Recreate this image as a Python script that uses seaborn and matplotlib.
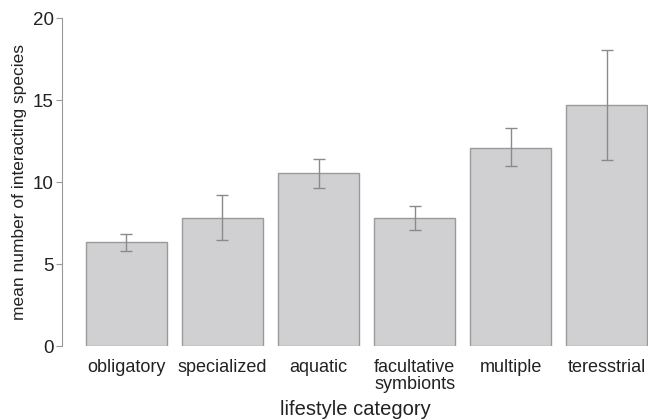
import matplotlib
matplotlib.use("Agg")
import matplotlib.pyplot as plt
import seaborn as sns
import pandas as pd
import numpy as np

categories = ["obligatory", "specialized", "aquatic", "facultative\nsymbionts", "multiple", "teresstrial"]
means = [6.33, 7.8, 10.55, 7.8, 12.07, 14.7]
err_low = [5.79, 6.46, 9.63, 7.07, 10.98, 11.34]
err_high = [6.83, 9.2, 11.4, 8.54, 13.3, 18.05]

sns.set_style("white")
plt.rcParams['font.family'] = ['Liberation Sans', 'DejaVu Sans']

df = pd.DataFrame({"category": categories, "mean": means})

fig = plt.figure(figsize=(6.48, 4.19), dpi=100)
ax = fig.add_axes([0.0957, 0.174, 0.9043, 0.783])

sns.barplot(data=df, x="category", y="mean", color="#d0d0d2", edgecolor="#9a9a9a",
            linewidth=1.0, width=0.84, errorbar=None, ax=ax, saturation=1)

x = np.arange(len(categories))
lo = np.array(means) - np.array(err_low)
hi = np.array(err_high) - np.array(means)
ax.errorbar(x, means, yerr=[lo, hi], fmt="none", ecolor="#8a8a8a", elinewidth=1.0,
            capsize=4, capthick=1.0)

ax.set_xlim(-0.67, 5.43)
ax.set_ylim(0, 20)
ax.set_yticks([0, 5, 10, 15, 20])
for s in ["top", "right", "bottom"]:
    ax.spines[s].set_visible(False)
ax.spines["left"].set_color("#999999")
ax.spines["left"].set_linewidth(0.8)
ax.tick_params(axis="y", left=True, length=4, color="#999999", labelsize=13.5, labelcolor="#222222", pad=2)
ax.tick_params(axis="x", bottom=False, labelsize=13, labelcolor="#222222", pad=6)
for t in ax.get_xticklabels():
    t.set_linespacing(1.0)
ax.set_xlabel("lifestyle category", fontsize=14.5, color="#222222", labelpad=5)
ax.set_ylabel("mean number of interacting species", fontsize=12.5, color="#222222", labelpad=4)

fig.savefig("out.png", dpi=100)
